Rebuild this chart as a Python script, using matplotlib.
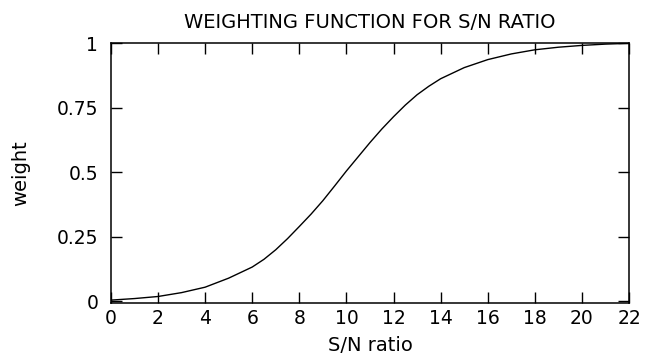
import numpy as np
import matplotlib.pyplot as plt

# valores
sn_ratio = [0, 1, 2, 3, 4, 5, 6, 6.5, 7, 7.5, 8, 8.5, 9, 9.5, 10, 10.5, 11, 11.5,
            12, 12.5, 13, 13.5, 14, 15, 16, 17, 18, 19, 20, 21, 22]
weight = [0.005, 0.011, 0.019, 0.034, 0.055, 0.09, 0.133, 0.163, 0.2, 0.243, 0.29, 0.338,
          0.39, 0.447, 0.505, 0.56, 0.615, 0.667,
          0.715, 0.76, 0.8, 0.833, 0.862, 0.905, 0.936, 0.958, 0.974, 0.984, 0.991, 0.996, 0.999]

x_ticks = list(range(0, 23, 2))
y_ticks = [0, 0.25, 0.5, 0.75, 1]
y_tick_labels = ["0", "0.25", "0.5", "0.75", "1"]

plt.rcParams['font.family'] = ['DejaVu Sans']

fig = plt.figure(figsize=(6.56, 3.56), dpi=100)
ax = fig.add_axes([0.169, 0.149, 0.79, 0.73])
ax.plot(sn_ratio, weight, color='black', linewidth=1.0)

ax.set_xlim(0, 22)
ax.set_ylim(-0.006, 1.0)
ax.set_xticks(x_ticks)
ax.set_yticks(y_ticks)
ax.set_yticklabels(y_tick_labels)
ax.tick_params(direction='in', length=8, width=1.0, top=True, right=True,
               labelsize=13.5, colors='black')
ax.tick_params(axis='x', pad=4)
ax.tick_params(axis='y', pad=9)
for s in ax.spines.values():
    s.set_linewidth(1.1)

ax.set_title("WEIGHTING FUNCTION FOR S/N RATIO", fontsize=14, pad=11)
ax.set_xlabel("S/N ratio", fontsize=14, labelpad=6)
ax.set_ylabel("weight", fontsize=14, labelpad=19)

fig.savefig("out.png", dpi=100)
